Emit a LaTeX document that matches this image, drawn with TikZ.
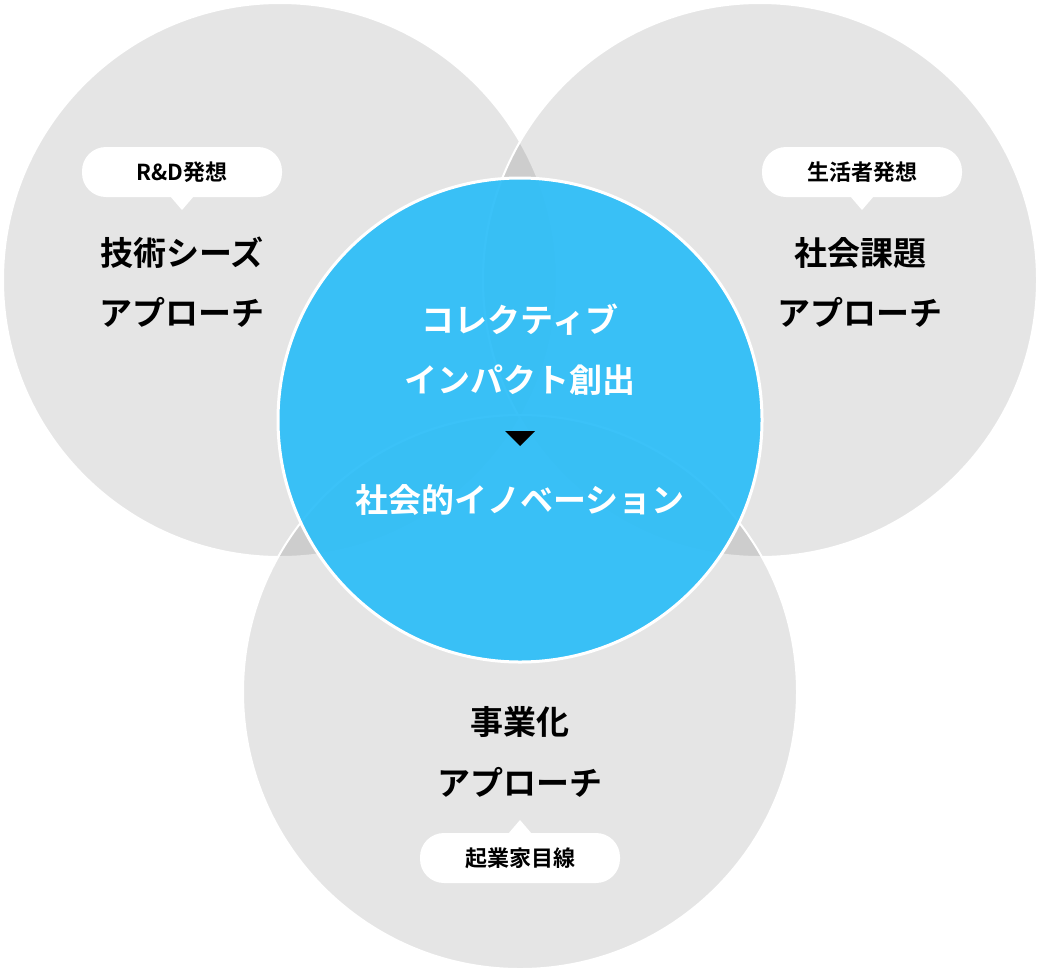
\documentclass[tikz,border=0pt]{standalone}
\usepackage{fontspec}
\setmainfont{Noto Sans CJK JP}[BoldFont={* Bold}]
\definecolor{blu}{HTML}{2DBEF8}
\begin{document}
\begin{tikzpicture}[x=1pt,y=-1pt,
  gc/.style={fill=black,fill opacity=0.1,draw=white,draw opacity=1,line width=2pt},
  head/.style={font=\bfseries\fontsize{33}{40}\selectfont,text=black},
  bhead/.style={font=\bfseries\fontsize{33}{40}\selectfont,text=white},
  tag/.style={fill=white,rounded corners=24pt,minimum width=200pt,minimum height=50pt,font=\bfseries\fontsize{22}{26}\selectfont}]
\useasboundingbox (0,0) rectangle (1040,972);
\fill[white] (0,0) rectangle (1040,972);
\path[gc] (280,280) circle (277);
\path[gc] (760,280) circle (277);
\path[gc] (520,692) circle (277);
\fill[blu,opacity=0.93] (520,420) circle (242);
\draw[white,line width=3pt] (520,420) circle (242);
% tags
\node[tag] (t1) at (182,172) {R\&D発想};
\fill[white] (170,196) -- (194,196) -- (182,210) -- cycle;
\node[tag] (t2) at (862,172) {生活者発想};
\fill[white] (850,196) -- (874,196) -- (862,210) -- cycle;
\node[tag] (t3) at (520,858) {起業家目線};
\fill[white] (508,834) -- (532,834) -- (520,820) -- cycle;
% headings
\node[head] (h1) at (182,253) {技術シーズ};
\node[head] (h2) at (182,312) {アプローチ};
\node[head] (h3) at (860,253) {社会課題};
\node[head] (h4) at (860,312) {アプローチ};
\node[head] (h5) at (520,722) {事業化};
\node[head] (h6) at (520,782) {アプローチ};
\node[bhead] (b1) at (520,320) {コレクティブ};
\node[bhead] (b2) at (520,380) {インパクト創出};
\fill[black] (505,431) -- (535,431) -- (520,446) -- cycle;
\node[bhead] (b3) at (520,500) {社会的イノベーション};
\end{tikzpicture}
\end{document}
